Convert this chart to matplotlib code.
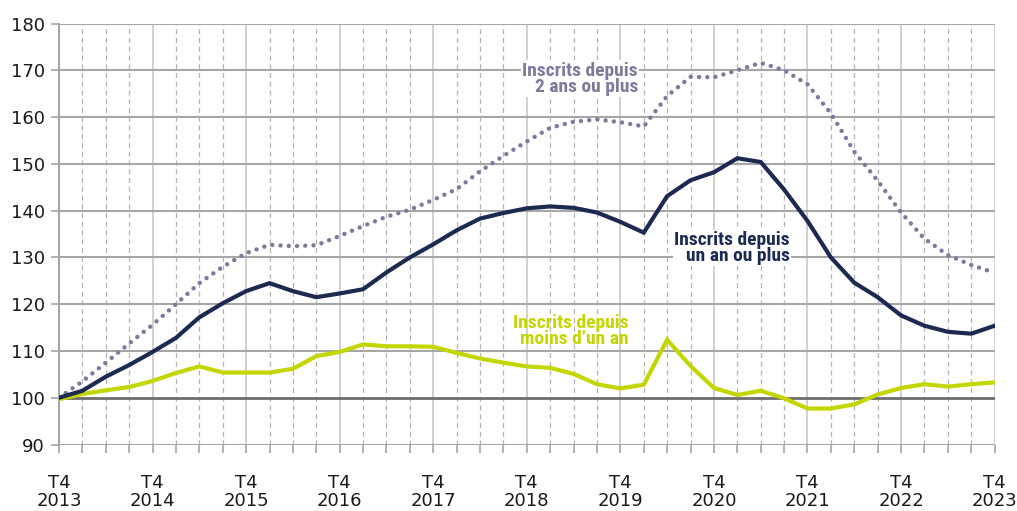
import numpy as np
import matplotlib
matplotlib.use("Agg")
import matplotlib.pyplot as plt

# Quarterly index, base 100 = T4 2013
years = list(range(2013, 2024))
tick_labels = ["T4\n%d" % y for y in years]

un_an_ou_plus = [100, 101.5, 104.5, 107, 109.8, 112.8, 117.2, 120.2, 122.8, 124.5,
                 122.8, 121.5, 122.3, 123.2, 126.8, 130, 132.8, 135.8, 138.3, 139.5,
                 140.5, 140.9, 140.6, 139.6, 137.6, 135.3, 143.1, 146.5, 148.2, 151.2,
                 150.4, 144.5, 137.8, 130, 124.6, 121.5, 117.6, 115.4, 114.1, 113.7,
                 115.4]
moins_un_an = [99.7, 100.8, 101.6, 102.3, 103.6, 105.3, 106.7, 105.4, 105.4, 105.4,
               106.2, 108.9, 109.8, 111.4, 111.0, 111.0, 110.9, 109.6, 108.4, 107.5,
               106.7, 106.4, 105.1, 102.9, 102.0, 102.8, 112.4, 106.8, 102.1, 100.6,
               101.5, 99.9, 97.7, 97.7, 98.6, 100.7, 102.1, 102.9, 102.4, 102.9,
               103.3]
deux_ans_ou_plus = [100, 103.5, 107.5, 111.6, 115.6, 120.0, 124.5, 128.0, 130.9, 132.7,
                    132.4, 132.6, 134.6, 136.7, 138.7, 140.2, 142.3, 144.6, 148.4, 151.7,
                    154.8, 157.7, 159.0, 159.5, 158.9, 158.0, 164.5, 168.6, 168.5, 170.0,
                    171.6, 170.0, 167.0, 160.8, 152.6, 146.4, 139.6, 134.0, 130.5, 128.4,
                    126.7]

navy = "#1c2a52"
green = "#c4d600"
purple = "#7d7a9c"

x = np.arange(len(un_an_ou_plus))

fig = plt.figure(figsize=(10.17, 5.11), dpi=100)
ax = fig.add_axes([0.058, 0.13, 0.92, 0.824])

# grid
for i in x:
    if i % 4 == 0:
        ax.axvline(i, color="#c8c8c8", lw=1.2, zorder=0)
    else:
        ax.axvline(i, color="#b4b4b4", lw=0.9, ls=(0, (4, 3)), zorder=0)
for v in range(90, 190, 10):
    if v == 100:
        ax.axhline(v, color="#6e6e6e", lw=2, zorder=1)
    else:
        ax.axhline(v, color="#a6a6a6", lw=1.5, zorder=0)

ax.plot(x, deux_ans_ou_plus, color=purple, lw=3.2, ls=(0, (0.01, 1.85)),
        dash_capstyle="round", zorder=3)
ax.plot(x, moins_un_an, color=green, lw=3, zorder=4, solid_joinstyle="miter")
ax.plot(x, un_an_ou_plus, color=navy, lw=3, zorder=5, solid_joinstyle="miter")

ax.set_xlim(0, len(x) - 1)
ax.set_ylim(90, 180)
ax.set_yticks(range(90, 190, 10))
ax.set_xticks(x, minor=True)
ax.set_xticks(x[::4])
ax.set_xticklabels(tick_labels, linespacing=1.0)
ax.tick_params(axis="y", labelsize=13, length=6, width=1.2, color="#a6a6a6",
               pad=4, labelcolor="#1a1a1a")
ax.tick_params(axis="x", which="both", length=6, width=1.2, color="#a6a6a6")
ax.tick_params(axis="x", which="major", labelsize=13, pad=15.5, labelcolor="#1a1a1a")
for s in ["top", "right", "bottom"]:
    ax.spines[s].set_visible(False)
ax.spines["left"].set_color("#a6a6a6")
ax.spines["left"].set_linewidth(1.5)

fnt = dict(family=["Roboto Condensed", "Liberation Sans Narrow", "Roboto", "DejaVu Sans"],
           fontweight="bold", fontsize=14, ha="right", va="center", linespacing=0.85)
bb = dict(facecolor="white", edgecolor="none", pad=1)
ax.text(24.75, 168.2, "Inscrits depuis\n2 ans ou plus", color=purple, bbox=bb, zorder=6, **fnt)
ax.text(31.25, 132.0, "Inscrits depuis\nun an ou plus", color=navy, bbox=bb, zorder=6, **fnt)
ax.text(24.35, 114.3, "Inscrits depuis\nmoins d\u2019un an", color=green, zorder=6, **fnt)

fig.savefig("out.png", dpi=100)
